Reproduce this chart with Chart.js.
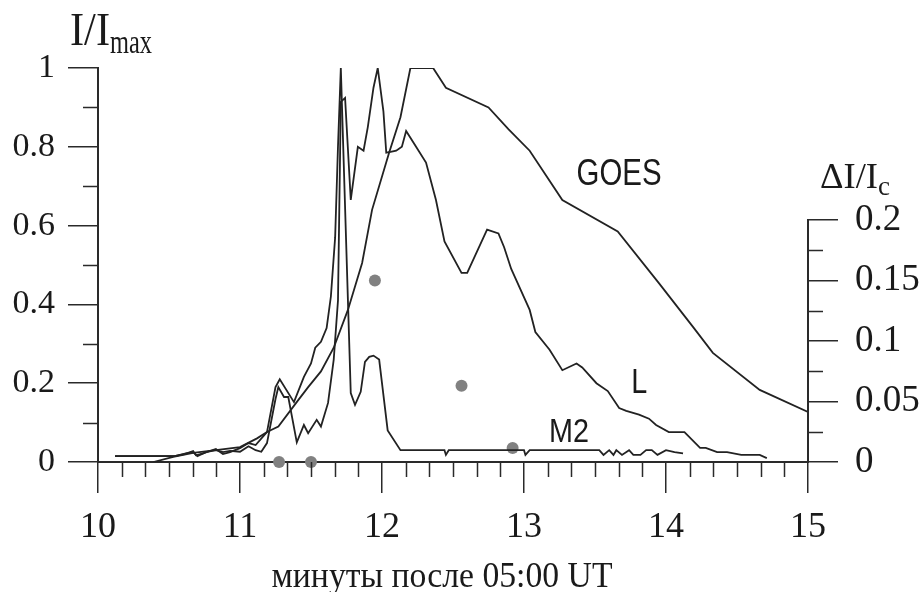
<!DOCTYPE html>
<html>
<head>
<meta charset="utf-8">
<script src="https://cdn.jsdelivr.net/npm/chart.js@4.4.0/dist/chart.umd.min.js"></script>
<style>
  html, body { margin: 0; padding: 0; background: #fff; }
  #wrap { width: 921px; height: 592px; }
</style>
</head>
<body>
<div id="wrap"><canvas id="chart"></canvas></div>
<script>
// === Datos ===
// eje X: minutos después de 05:00 UT
const xTicks = [10, 11, 12, 13, 14, 15];
const leftTicks = [0, 0.2, 0.4, 0.6, 0.8, 1];
const rightTicks = [0, 0.05, 0.1, 0.15, 0.2];

// GOES (I/Imax)
const goesX = [10.39, 10.53, 10.67, 10.83, 11.0, 11.12, 11.19, 11.27, 11.41, 11.48, 11.57, 11.66, 11.76, 11.86, 11.93,
  12.05, 12.13, 12.2, 12.36, 12.45, 12.75, 12.89, 13.04, 13.27, 13.66, 13.95, 14.19, 14.33, 14.66, 15.0];
const goesY = [0, 0.013, 0.023, 0.03, 0.038, 0.06, 0.076, 0.09, 0.157, 0.19, 0.23, 0.29, 0.386, 0.505, 0.64,
  0.785, 0.875, 1.0, 1.0, 0.95, 0.90, 0.845, 0.79, 0.665, 0.585, 0.454, 0.343, 0.277, 0.183, 0.127];

// L (I/Imax)
const lX = [10.12, 10.54, 10.62, 10.67, 10.70, 10.76, 10.83, 10.88, 10.93, 11.0, 11.06, 11.11, 11.15, 11.19,
  11.25, 11.27, 11.31, 11.34, 11.40, 11.45, 11.48, 11.54, 11.57, 11.62, 11.66, 11.69, 11.71, 11.74, 11.78,
  11.83, 11.87, 11.90, 11.94, 11.97, 12.01, 12.03, 12.06, 12.10, 12.14, 12.17, 12.24, 12.31, 12.38, 12.44,
  12.56, 12.60, 12.74, 12.82, 12.86, 12.91, 13.04, 13.08, 13.18, 13.27, 13.37, 13.41, 13.51, 13.59, 13.67,
  13.72, 13.81, 13.88, 13.93, 14.02, 14.13, 14.24, 14.28, 14.36, 14.43, 14.53, 14.66, 14.71];
const lY = [0.015, 0.015, 0.022, 0.025, 0.015, 0.025, 0.03, 0.025, 0.028, 0.026, 0.04, 0.03, 0.026, 0.048,
  0.16, 0.19, 0.165, 0.165, 0.05, 0.094, 0.073, 0.107, 0.09, 0.15, 0.26, 0.41, 0.914, 0.924, 0.665,
  0.80, 0.79, 0.85, 0.95, 1.0, 0.89, 0.785, 0.787, 0.79, 0.80, 0.84, 0.80, 0.76, 0.665, 0.56,
  0.48, 0.48, 0.59, 0.58, 0.545, 0.49, 0.386, 0.33, 0.285, 0.233, 0.25, 0.24, 0.20, 0.18, 0.137,
  0.13, 0.12, 0.11, 0.094, 0.076, 0.076, 0.036, 0.036, 0.025, 0.025, 0.018, 0.018, 0.01];

// M2 (I/Imax)
const m2X = [10.12, 10.54, 10.61, 10.67, 10.69, 10.74, 10.83, 10.88, 10.93, 11.0, 11.06, 11.11, 11.19, 11.25,
  11.28, 11.38, 11.45, 11.50, 11.53, 11.57, 11.61, 11.64, 11.67, 11.69, 11.71, 11.78, 11.81, 11.85, 11.88,
  11.91, 11.94, 11.98, 12.04, 12.13, 12.44, 12.45, 12.47, 13.0, 13.01, 13.04, 13.53, 13.56, 13.60, 13.63,
  13.65, 13.69, 13.74, 13.77, 13.82, 13.86, 13.90, 13.94, 14.0, 14.06, 14.12];
const m2Y = [0.015, 0.015, 0.02, 0.028, 0.017, 0.022, 0.033, 0.02, 0.025, 0.035, 0.048, 0.043, 0.076, 0.19,
  0.21, 0.152, 0.216, 0.25, 0.29, 0.305, 0.34, 0.42, 0.57, 0.80, 1.0, 0.175, 0.145, 0.178, 0.254,
  0.267, 0.27, 0.26, 0.08, 0.03, 0.03, 0.018, 0.03, 0.03, 0.018, 0.03, 0.03, 0.018, 0.03, 0.018,
  0.03, 0.018, 0.03, 0.018, 0.018, 0.03, 0.03, 0.018, 0.03, 0.025, 0.022];

// ΔI/Ic (eje derecho)
const dotX = [11.275, 11.50, 11.95, 12.56, 12.92];
const dotY = [0, 0, 0.150, 0.063, 0.0115];

// Etiquetas de las curvas
const curveNames = ['GOES', 'L', 'M2'];
const curveNameX = [13.37, 13.755, 13.176];
const curveNameY = [0.703, 0.175, 0.051];

// el eje derecho sólo ocupa la parte baja de la altura del gráfico
const rightAxisFrac = 0.614;

const lineColor = '#222';
const axisColor = '#2a2a2a';
const textColor = '#1a1a1a';
const serif = '"Liberation Serif", "Times New Roman", serif';
const sans = '"Liberation Sans", Arial, sans-serif';

const toPts = (xs, ys) => xs.map((v, i) => ({ x: v, y: ys[i] }));

function lineSet(xs, ys) {
    return {
        data: toPts(xs, ys),
        borderColor: lineColor,
        borderWidth: 1.8,
        pointRadius: 0,
        tension: 0,
        fill: false,
        yAxisID: 'y'
    };
}

// texto ajustado a un ancho dado
function fitText(ctx, text, x, y, size, family, width, align) {
    ctx.save();
    ctx.font = size + 'px ' + family;
    const w = ctx.measureText(text).width;
    const sx = width ? width / w : 1;
    ctx.translate(align === 'center' ? x - (w * sx) / 2 : x, y);
    ctx.scale(sx, 1);
    ctx.textAlign = 'left';
    ctx.textBaseline = 'alphabetic';
    ctx.fillText(text, 0, 0);
    ctx.restore();
}

// ticks menores, eje derecho y rótulos
const extras = {
    id: 'extras',
    afterDraw(chart) {
        const ctx = chart.ctx;
        const { x, y, y2 } = chart.scales;
        const area = chart.chartArea;
        ctx.save();
        ctx.strokeStyle = axisColor;

        // línea del eje derecho
        ctx.lineWidth = 2;
        ctx.beginPath();
        ctx.moveTo(area.right, y2.getPixelForValue(rightTicks[0]) + 1);
        ctx.lineTo(area.right, y2.getPixelForValue(rightTicks[rightTicks.length - 1]) - 1);
        ctx.stroke();

        ctx.lineWidth = 1.5;
        ctx.beginPath();
        const x0 = xTicks[0], x1 = xTicks[xTicks.length - 1];
        for (let i = 0; i <= (x1 - x0) * 6; i++) {
            if (i % 6 === 0) continue;
            const px = Math.round(x.getPixelForValue(x0 + i / 6)) + 0.5;
            ctx.moveTo(px, area.bottom);
            ctx.lineTo(px, area.bottom + 15);
        }
        for (let i = 0; i < leftTicks.length - 1; i++) {
            const py = Math.round(y.getPixelForValue((leftTicks[i] + leftTicks[i + 1]) / 2)) + 0.5;
            ctx.moveTo(area.left, py);
            ctx.lineTo(area.left - 15, py);
        }
        for (let i = 0; i < rightTicks.length - 1; i++) {
            const py = Math.round(y2.getPixelForValue((rightTicks[i] + rightTicks[i + 1]) / 2)) + 0.5;
            ctx.moveTo(area.right, py);
            ctx.lineTo(area.right + 15, py);
        }
        ctx.stroke();

        ctx.fillStyle = textColor;
        // títulos de los ejes
        fitText(ctx, 'I/I', area.left - 28, area.top - 23, 46, serif, 40);
        fitText(ctx, 'max', area.left + 12, area.top - 15, 34, serif, 42);
        fitText(ctx, 'ΔI/I', area.right + 12, area.top + 120, 36, serif, 58);
        fitText(ctx, 'c', area.right + 70, area.top + 127, 28, serif, 12);
        fitText(ctx, 'минуты после 05:00 UT', 442, area.bottom + 125, 36, serif, 341, 'center');

        // nombres de las curvas
        const widths = [85, 16, 40];
        const sizes = [37, 35, 34];
        curveNames.forEach((name, i) => {
            fitText(ctx, name, x.getPixelForValue(curveNameX[i]), y.getPixelForValue(curveNameY[i]),
                sizes[i], sans, widths[i]);
        });
        ctx.restore();
    }
};

const tickGrid = (len) => ({
    drawOnChartArea: false,
    drawTicks: true,
    tickLength: len,
    color: axisColor,
    lineWidth: 1.5
});

new Chart(document.getElementById('chart').getContext('2d'), {
    type: 'line',
    data: {
        datasets: [
            lineSet(goesX, goesY),
            lineSet(lX, lY),
            lineSet(m2X, m2Y),
            {
                type: 'scatter',
                data: toPts(dotX, dotY),
                yAxisID: 'y2',
                pointRadius: 6,
                pointHoverRadius: 6,
                backgroundColor: '#818181',
                borderWidth: 0,
                showLine: false,
                clip: false
            }
        ]
    },
    options: {
        responsive: true,
        maintainAspectRatio: false,
        animation: false,
        layout: { padding: { top: 68, left: 0, right: 0, bottom: 0 } },
        plugins: {
            legend: { display: false },
            tooltip: { enabled: false }
        },
        scales: {
            x: {
                type: 'linear',
                position: 'bottom',
                min: xTicks[0],
                max: xTicks[xTicks.length - 1],
                afterBuildTicks: s => { s.ticks = xTicks.map(v => ({ value: v })); },
                afterFit: s => { s.height = 130; },
                grid: tickGrid(31),
                border: { display: true, color: axisColor, width: 2 },
                ticks: {
                    autoSkip: false,
                    maxRotation: 0,
                    padding: 13,
                    color: textColor,
                    font: { family: serif, size: 36 },
                    callback: v => String(v)
                }
            },
            y: {
                position: 'left',
                min: 0,
                max: 1,
                afterBuildTicks: s => { s.ticks = leftTicks.map(v => ({ value: v })); },
                afterFit: s => { s.width = 98; },
                grid: tickGrid(30),
                border: { display: true, color: axisColor, width: 2 },
                ticks: {
                    autoSkip: false,
                    padding: 13,
                    color: textColor,
                    font: { family: serif, size: 34 },
                    callback: v => String(v)
                }
            },
            y2: {
                position: 'right',
                min: 0,
                max: rightTicks[rightTicks.length - 1] / rightAxisFrac,
                afterBuildTicks: s => { s.ticks = rightTicks.map(v => ({ value: v })); },
                afterFit: s => { s.width = 113; },
                grid: tickGrid(30),
                border: { display: false },
                ticks: {
                    autoSkip: false,
                    padding: 17,
                    color: textColor,
                    font: { family: serif, size: 37 },
                    callback: v => String(v)
                }
            }
        }
    },
    plugins: [extras]
});
</script>
</body>
</html>
